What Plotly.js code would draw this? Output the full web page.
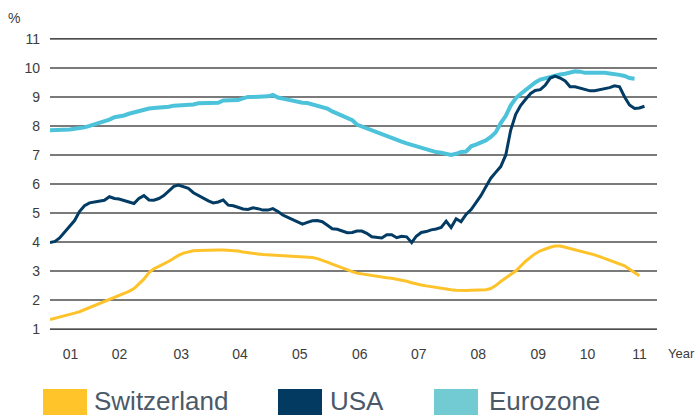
<!DOCTYPE html>
<html><head><meta charset="utf-8">
<script src="https://cdn.plot.ly/plotly-3.0.1.min.js"></script>
<style>html,body{margin:0;padding:0;background:#fff}#chart{width:699px;height:415px}</style>
</head><body><div id="chart"></div>
<script>
// Monthly unemployment rates (%), starting January 2001
const startYear = 2001;
const seriesNames = ['Switzerland', 'USA', 'Eurozone'];

const switzerland = [
  1.33,1.37,1.41,1.45,1.5,1.55,1.6,1.67,1.75,1.82,
  1.88,1.95,2.02,2.08,2.15,2.22,2.3,2.4,2.55,2.72,
  2.95,3.08,3.16,3.24,3.34,3.44,3.54,3.62,3.67,3.7,
  3.71,3.72,3.73,3.73,3.73,3.73,3.72,3.71,3.69,3.66,
  3.63,3.61,3.59,3.57,3.56,3.55,3.54,3.53,3.52,3.51,
  3.5,3.49,3.48,3.47,3.43,3.38,3.31,3.24,3.17,3.1,
  3.03,2.98,2.93,2.9,2.87,2.85,2.82,2.79,2.77,2.75,
  2.72,2.69,2.65,2.6,2.55,2.52,2.49,2.46,2.44,2.41,
  2.38,2.36,2.34,2.33,2.33,2.34,2.35,2.35,2.36,2.4,
  2.5,2.64,2.75,2.88,3.0,3.18,3.34,3.48,3.6,3.7,
  3.77,3.82,3.86,3.86,3.82,3.78,3.74,3.7,3.66,3.61,
  3.56,3.5,3.44,3.38,3.33,3.26,3.18,3.06,2.95,2.84
];

const usa = [
  3.98,4.02,4.14,4.34,4.57,4.74,5.05,5.25,5.35,5.38,
  5.39,5.44,5.56,5.5,5.48,5.44,5.38,5.33,5.5,5.6,
  5.45,5.44,5.5,5.6,5.75,5.92,5.96,5.9,5.85,5.7,
  5.6,5.5,5.42,5.35,5.38,5.45,5.27,5.25,5.2,5.14,
  5.12,5.18,5.15,5.1,5.1,5.15,5.05,4.93,4.85,4.77,
  4.7,4.62,4.68,4.73,4.74,4.7,4.58,4.46,4.44,4.38,
  4.32,4.33,4.38,4.38,4.3,4.18,4.15,4.14,4.25,4.25,
  4.15,4.2,4.18,3.98,4.2,4.33,4.36,4.42,4.45,4.5,
  4.72,4.5,4.8,4.7,4.95,5.12,5.35,5.6,5.9,6.2,
  6.4,6.6,7.0,7.85,8.4,8.7,8.92,9.12,9.22,9.25,
  9.4,9.65,9.72,9.65,9.55,9.35,9.35,9.3,9.26,9.21,
  9.21,9.24,9.27,9.32,9.38,9.35,9.0,8.72,8.6,8.62,
  8.68
];

const eurozone = [
  7.85,7.85,7.85,7.85,7.88,7.9,7.92,7.95,8.0,8.05,
  8.1,8.18,8.22,8.3,8.32,8.36,8.42,8.47,8.52,8.57,
  8.6,8.62,8.63,8.64,8.66,8.7,8.71,8.72,8.72,8.74,
  8.78,8.78,8.78,8.77,8.8,8.88,8.88,8.89,8.89,8.95,
  9.0,9.0,9.0,9.0,9.02,9.07,8.98,8.94,8.9,8.87,
  8.84,8.8,8.79,8.74,8.7,8.65,8.6,8.5,8.43,8.36,
  8.28,8.2,8.05,7.98,7.93,7.87,7.8,7.72,7.64,7.58,
  7.52,7.46,7.4,7.35,7.3,7.24,7.18,7.12,7.1,7.08,
  7.05,7.0,7.04,7.1,7.12,7.3,7.36,7.42,7.5,7.62,
  7.78,8.1,8.35,8.7,8.95,9.1,9.25,9.4,9.5,9.6,
  9.65,9.7,9.73,9.77,9.8,9.83,9.88,9.87,9.83,9.83,
  9.84,9.83,9.83,9.81,9.8,9.76,9.72,9.65,9.63
];

const xTickDates = ['2001-05-07','2002-03-04','2003-03-19','2004-03-13','2005-03-16','2006-03-19',
                    '2007-03-16','2008-03-16','2009-03-19','2010-01-16','2010-12-01'];
const xTickLabels = ['01','02','03','04','05','06','07','08','09','10','11'];
const yTickValues = [1,2,3,4,5,6,7,8,9,10,11];
const yDarkLines = [1,4,11];

const colors = {Switzerland:'#fec32b', USA:'#023b63', Eurozone:'#4cc3da'};
const legendColors = {Switzerland:'#fec42a', USA:'#033a62', Eurozone:'#72cbd3'};

function monthDates(n) {
  const out = [];
  for (let i = 0; i < n; i++) {
    const y = startYear + Math.floor(i / 12);
    const m = (i % 12) + 1;
    out.push(y + '-' + String(m).padStart(2, '0') + '-01');
  }
  return out;
}

const traces = [
  {name:'Eurozone', y:eurozone, x:monthDates(eurozone.length), mode:'lines',
   line:{color:colors.Eurozone, width:4}},
  {name:'USA', y:usa, x:monthDates(usa.length), mode:'lines',
   line:{color:colors.USA, width:3}},
  {name:'Switzerland', y:switzerland, x:monthDates(switzerland.length), mode:'lines',
   line:{color:colors.Switzerland, width:3}}
].map(t => Object.assign(t, {type:'scatter', hoverinfo:'skip'}));

const fontFam = 'Liberation Sans, Arial, Helvetica, sans-serif';
const shapes = yDarkLines.map(v => ({
  type:'line', xref:'paper', yref:'y', x0:0, x1:1, y0:v, y1:v,
  line:{color:'#111', width:1.2}, layer:'below'
}));

// legend (drawn manually as large swatches)
const legendItems = [
  {name:'Switzerland', x0:-0.0115, x1:0.061, tx:0.0708},
  {name:'USA', x0:0.3756, x1:0.4481, tx:0.4596},
  {name:'Eurozone', x0:0.6326, x1:0.7051, tx:0.7216}
];
legendItems.forEach(it => shapes.push({
  type:'rect', xref:'paper', yref:'paper', x0:it.x0, x1:it.x1, y0:-0.202, y1:-0.30,
  fillcolor:legendColors[it.name], line:{width:0}
}));

const annotations = [
  {text:'%', xref:'paper', yref:'paper', x:-0.0593, y:1.068, xanchor:'center', yanchor:'middle',
   showarrow:false, font:{size:14, color:'#3c3c3c', family:fontFam}},
  {text:'Year', xref:'paper', yref:'paper', x:1.0165, y:-0.082, xanchor:'left', yanchor:'middle',
   showarrow:false, borderpad:0, font:{size:13, color:'#3c3c3c', family:fontFam}}
];
legendItems.forEach(it => annotations.push({
  text:it.name, xref:'paper', yref:'paper', x:it.tx, y:-0.243, xanchor:'left', yanchor:'middle',
  showarrow:false, borderpad:0, font:{size:26, color:'#4b5968', family:fontFam}
}));

const layout = {
  width:699, height:415,
  margin:{l:50, r:42, t:38, b:85, pad:0},
  paper_bgcolor:'#ffffff', plot_bgcolor:'#ffffff',
  showlegend:false,
  font:{family:fontFam, color:'#3c3c3c', size:14},
  xaxis:{type:'date', range:['2001-01-01','2011-03-19'], tickmode:'array',
         tickvals:xTickDates, ticktext:xTickLabels, showgrid:false, zeroline:false,
         showline:false, ticks:'', ticklabelstandoff:14, tickfont:{size:14, color:'#3c3c3c'},
         fixedrange:true},
  yaxis:{range:[0.97, 11.03], tickmode:'array', tickvals:yTickValues, showgrid:true,
         gridcolor:'#7a7a7a', gridwidth:1.6, zeroline:false, showline:false, ticks:'',
         ticklabelstandoff:9, tickfont:{size:14, color:'#3c3c3c'}, fixedrange:true},
  shapes:shapes,
  annotations:annotations
};

Plotly.newPlot('chart', traces, layout, {staticPlot:true, displayModeBar:false});
</script>
</body></html>
